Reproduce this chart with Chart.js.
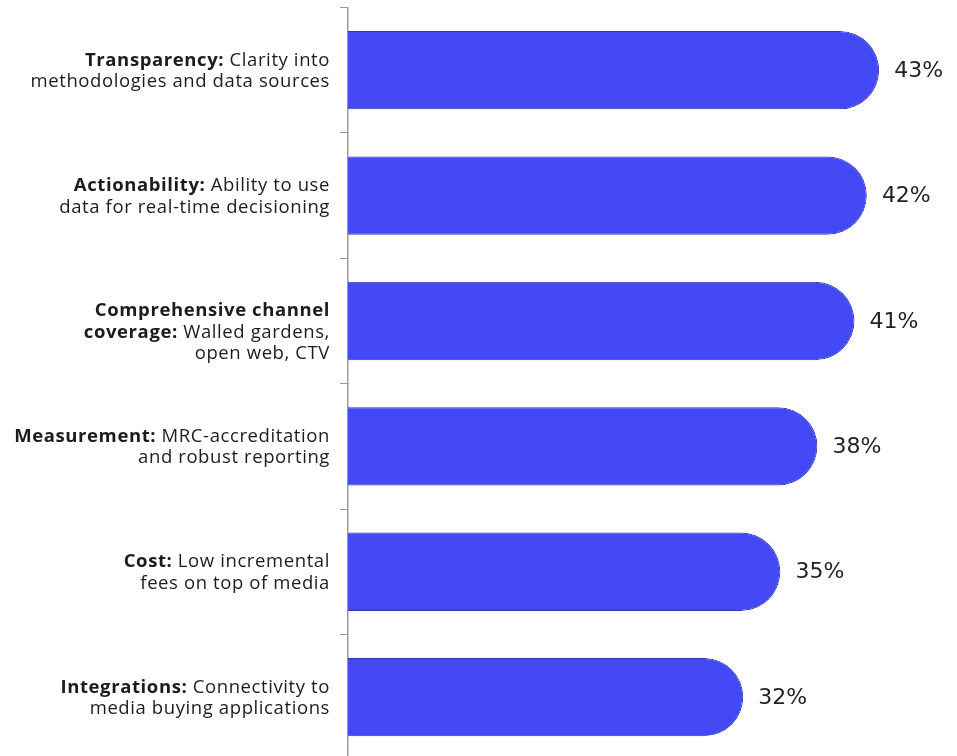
<!DOCTYPE html>
<html>
<head>
<meta charset="utf-8">
<script src="https://cdn.jsdelivr.net/npm/chart.js@4.4.0/dist/chart.umd.min.js"></script>
<style>
  html, body { margin: 0; padding: 0; background: #fff; overflow: hidden; }
  #wrap { position: relative; width: 957px; height: 767px; }
</style>
</head>
<body>
<div id="wrap"><canvas id="chart"></canvas></div>
<script>
// each label line: [bold part, regular part]
const headings = ['Transparency:', 'Actionability:', 'Comprehensive channel', 'Measurement:', 'Cost:', 'Integrations:'];
const labelLines = [
  [['Transparency:', ' Clarity into'], ['', 'methodologies and data sources']],
  [['Actionability:', ' Ability to use'], ['', 'data for real-time decisioning']],
  [['Comprehensive channel', ''], ['coverage:', ' Walled gardens,'], ['', 'open web, CTV']],
  [['Measurement:', ' MRC-accreditation'], ['', 'and robust reporting']],
  [['Cost:', ' Low incremental'], ['', 'fees on top of media']],
  [['Integrations:', ' Connectivity to'], ['', 'media buying applications']]
];
const values = [43, 42, 41, 38, 35, 32];

const LABEL_FONT = '"Open Sans", "Noto Sans", sans-serif';
const labelSize = 18.5;
const lineHeight = 21.5;

// draws the mixed bold/regular category labels and the value labels
const labelPlugin = {
  id: 'labels',
  afterDraw(chart) {
    const ctx = chart.ctx;
    const y = chart.scales.y;
    const x = chart.scales.x;
    const right = y.right - 18;
    ctx.save();
    ctx.textBaseline = 'middle';
    ctx.letterSpacing = '0.6px';
    labelLines.forEach((lines, i) => {
      const cy = y.getPixelForValue(i) + 1;
      lines.forEach((parts, j) => {
        const ly = cy - lineHeight / 2 + j * lineHeight;
        ctx.font = '400 ' + labelSize + 'px ' + LABEL_FONT;
        const wReg = ctx.measureText(parts[1]).width;
        ctx.fillStyle = '#1c1c1c';
        ctx.textAlign = 'left';
        ctx.fillText(parts[1], right - wReg, ly);
        if (parts[0]) {
          ctx.font = '700 ' + labelSize + 'px ' + LABEL_FONT;
          const wBold = ctx.measureText(parts[0]).width;
          ctx.fillText(parts[0], right - wReg - wBold, ly);
        }
      });
    });
    ctx.letterSpacing = '0px';
    ctx.font = '22px "DejaVu Sans", sans-serif';
    ctx.fillStyle = '#222';
    ctx.textAlign = 'left';
    values.forEach((v, i) => {
      ctx.fillText(v + '%', x.getPixelForValue(v) + 15, y.getPixelForValue(i) + 1);
    });
    ctx.restore();
  }
};

new Chart(document.getElementById('chart'), {
  type: 'bar',
  data: {
    labels: headings,
    datasets: [{
      data: values,
      backgroundColor: '#4349f5',
      borderColor: '#3136b5',
      borderWidth: 1,
      borderRadius: 100,
      borderSkipped: 'start',
      barPercentage: 0.625,
      categoryPercentage: 1
    }]
  },
  options: {
    indexAxis: 'y',
    responsive: true,
    maintainAspectRatio: false,
    animation: false,
    layout: { padding: { top: 7.5, right: 16, bottom: 0, left: 0 } },
    plugins: { legend: { display: false }, tooltip: { enabled: false } },
    scales: {
      x: { display: false, min: 0, max: 48 },
      y: {
        afterFit(scale) { scale.width = 348; },
        border: { display: true, color: '#9a9a9a', width: 1.5 },
        grid: { offset: true, drawOnChartArea: false, drawTicks: true, tickLength: 8, color: '#9a9a9a' },
        ticks: { callback: () => '', padding: 0 }
      }
    }
  },
  plugins: [labelPlugin]
});
</script>
</body>
</html>
